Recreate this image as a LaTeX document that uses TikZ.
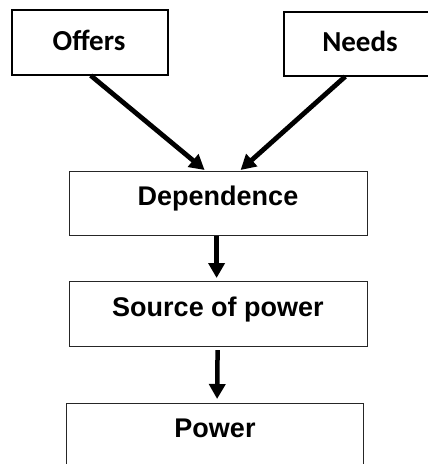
\documentclass[tikz,border=0pt]{standalone}
\usepackage{fontspec}
\setmainfont{Liberation Sans}
\newfontfamily\calibrifont{Carlito}
\usetikzlibrary{arrows.meta}
\begin{document}
\begin{tikzpicture}[x=1pt,y=-1pt,
  box/.style={draw=black!85,line width=1.2pt,inner sep=0pt,minimum height=#1,anchor=north west},
  box/.default=64pt,
  topbox/.style={box=#1,draw=black,line width=1.5pt},
  lbl/.style={anchor=base,inner sep=0pt,font=\fontsize{27}{32}\selectfont\bfseries},
  toplbl/.style={anchor=base,inner sep=0pt,font=\fontsize{29}{34}\selectfont\calibrifont\bfseries},
  diag/.style={line width=4.8pt,-{Triangle[length=15pt,width=16pt]}},
  vert/.style={line width=4.5pt,-{Triangle[length=15pt,width=16pt]}}]
\useasboundingbox (0,0) rectangle (428,464);
\clip (0,0) rectangle (428,464);
% boxes
\node[topbox=65pt,minimum width=156pt] (offbox) at (11,9) {};
\node[topbox=64pt,minimum width=157pt] (needbox) at (283,11) {};
\node[box=64pt,minimum width=298pt] (depbox) at (69,171) {};
\node[box=65pt,minimum width=298pt] (srcbox) at (69,281) {};
\node[box=67pt,minimum width=297pt] (powbox) at (66,403) {};
% labels
\node[toplbl] (offers) at (89,50) {Offers};
\node[toplbl] (needs) at (360,51) {Needs};
\node[lbl] (dep) at (218,205) {Dependence};
\node[lbl] (src) at (218,316) {Source of power};
\node[lbl] (pow) at (215,437) {Power};
% connector endpoints on the boxes
\coordinate (offb) at ([xshift=1pt]offbox.south);
\coordinate (needb) at ([xshift=-17pt]needbox.south);
\coordinate (depL) at ([xshift=-14pt,yshift=1pt]depbox.north);
\coordinate (depR) at ([xshift=22pt,yshift=1pt]depbox.north);
\coordinate (depB) at ([xshift=-2pt]depbox.south);
\coordinate (srcT) at ([xshift=-2pt,yshift=3pt]srcbox.north);
\coordinate (srcB) at ([xshift=-1pt,yshift=-3pt]srcbox.south);
\coordinate (powT) at ([xshift=2pt,yshift=4pt]powbox.north);
\draw[diag] (offb) -- (depL);
\draw[diag] (needb) -- (depR);
\draw[vert] (depB) -- (srcT);
\draw[vert] (srcB) -- (powT);
\end{tikzpicture}
\end{document}
